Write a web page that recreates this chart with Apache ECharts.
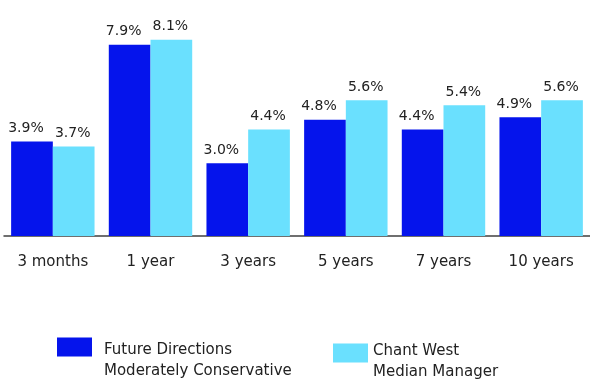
<!DOCTYPE html>
<html>
<head>
<meta charset="utf-8">
<script src="https://cdn.jsdelivr.net/npm/echarts@6/dist/echarts.min.js"></script>
<style>
  html, body { margin: 0; padding: 0; background: #ffffff; }
  #chart { width: 590px; height: 383px; }
</style>
</head>
<body>
<div id="chart"></div>
<script>
// Return periods
const periods = ['3 months', '1 year', '3 years', '5 years', '7 years', '10 years'];
// Returns (%) for each fund
const futureDirections = [3.9, 7.9, 3.0, 4.8, 4.4, 4.9];
const chantWest = [3.7, 8.1, 4.4, 5.6, 5.4, 5.6];
const seriesNames = ['Future Directions\nModerately Conservative', 'Chant West\nMedian Manager'];

const FONT = '"DejaVu Sans", sans-serif';
const TEXT = '#222222';
const DARK = '#0514ec';
const LIGHT = '#6ae0fe';

const chart = echarts.init(document.getElementById('chart'), null, { renderer: 'canvas' });

const labelOpt = (dx) => ({
  show: true,
  position: 'top',
  distance: 6,
  offset: [dx, 0],
  color: TEXT,
  fontFamily: FONT,
  fontSize: 14,
  formatter: p => p.value.toFixed(1) + '%'
});

// Legend entry: icon box with a two-line name pushed down by an empty spacer line
const legendEntry = (name, left, top, spacer, padLeft) => ({
  data: [{ name: name, icon: 'rect' }],
  left: left,
  top: top,
  itemWidth: 35,
  itemHeight: 19,
  itemGap: 0,
  padding: 0,
  formatter: n => '{s| }\n' + n.split('\n').map(l => '{t|' + l + '}').join('\n'),
  textStyle: {
    color: TEXT,
    fontFamily: FONT,
    fontSize: 15,
    rich: {
      s: { lineHeight: spacer, fontSize: 4 },
      t: { color: TEXT, fontFamily: FONT, fontSize: 15, lineHeight: 21, padding: [0, 0, 0, padLeft] }
    }
  }
});

chart.setOption({
  animation: false,
  backgroundColor: '#ffffff',
  grid: { left: 4, width: 590, top: 18, height: 218 },
  xAxis: {
    type: 'category',
    data: periods,
    axisLine: { show: true, lineStyle: { color: '#404040', width: 1.5 } },
    axisTick: { show: false },
    axisLabel: { color: TEXT, fontFamily: FONT, fontSize: 15, margin: 19 }
  },
  yAxis: {
    type: 'value',
    min: 0,
    max: 9,
    show: false
  },
  legend: [
    legendEntry(seriesNames[0], 57, 324, 28, 7),
    legendEntry(seriesNames[1], 333, 330, 17, 0)
  ],
  series: [
    {
      name: seriesNames[0],
      type: 'bar',
      data: futureDirections,
      barGap: '0%',
      barCategoryGap: '14.6%',
      itemStyle: { color: DARK },
      label: labelOpt(-6)
    },
    {
      name: seriesNames[1],
      type: 'bar',
      data: chantWest,
      itemStyle: { color: LIGHT },
      label: labelOpt(-1)
    }
  ]
});
</script>
</body>
</html>
